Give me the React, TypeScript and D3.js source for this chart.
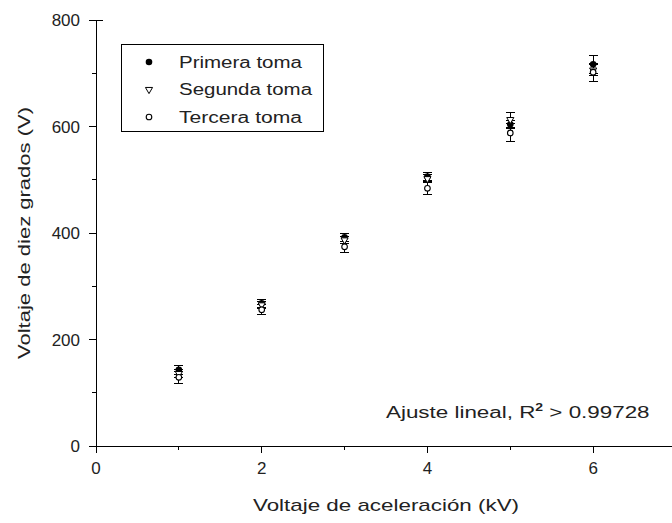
import React from "react";
import * as d3 from "d3";

// Acceleration voltage (kV) for each measurement
const voltajes = [1, 2, 3, 4, 5, 6];

// Three measurement runs with their uncertainties (V)
const primera = [143, 268, 392, 506, 604, 717];
const primeraErr = [9, 8, 8, 8, 8, 17];
const segunda = [136, 265, 387, 502, 613, 706];
const segundaErr = [7, 7, 6, 7, 14, 10];
const tercera = [129, 256, 374, 484, 588, 702];
const terceraErr = [11, 9, 10, 12, 17, 17];

const xTicks = [0, 2, 4, 6];
const xMinor = [1, 3, 5];
const yTicks = [0, 200, 400, 600, 800];
const yMinor = [100, 300, 500, 700];

const W = 672;
const H = 523;
const FONT = "'Liberation Sans', Arial, sans-serif";
const INK = "#222";

const x = d3.scaleLinear().domain([0, 7]).range([96, 676]);
const y = d3.scaleLinear().domain([0, 800]).range([446, 20]);

type Serie = { name: string; values: number[]; errs: number[]; kind: "filled" | "tri" | "open" };
const series: Serie[] = [
  { name: "Primera toma", values: primera, errs: primeraErr, kind: "filled" },
  { name: "Segunda toma", values: segunda, errs: segundaErr, kind: "tri" },
  { name: "Tercera toma", values: tercera, errs: terceraErr, kind: "open" },
];

const triPath = d3.symbol().type(d3.symbolTriangle).size(22)();

function Marker({ kind, cx, cy }: { kind: Serie["kind"]; cx: number; cy: number }) {
  if (kind === "filled") return <circle cx={cx} cy={cy} r={3.3} fill="#000" />;
  if (kind === "open")
    return <circle cx={cx} cy={cy} r={2.8} fill="#fff" stroke="#000" strokeWidth={1.1} />;
  return (
    <path
      d={triPath || ""}
      transform={`translate(${cx},${cy}) rotate(180)`}
      fill="#fff"
      stroke="#000"
      strokeWidth={1}
    />
  );
}

export default function App() {
  const cap = 4.5;
  return (
    <svg
      width={W}
      height={H}
      style={{ position: "absolute", left: 0, top: 0, background: "#fff" }}
      fontFamily={FONT}
    >
      <rect width={W} height={H} fill="#fff" />
      {/* axes */}
      <g stroke="#000" strokeWidth={1} shapeRendering="crispEdges">
        <line x1={x(0)} x2={x(0)} y1={y(800)} y2={y(0)} />
        <line x1={x(0)} x2={W} y1={y(0)} y2={y(0)} />
        {yTicks.map((t) => (
          <line key={"yt" + t} x1={x(0) - 7} x2={t === 800 ? x(0) + 7 : x(0)} y1={y(t)} y2={y(t)} />
        ))}
        {yMinor.map((t) => (
          <line key={"ym" + t} x1={x(0) - 4} x2={x(0)} y1={y(t)} y2={y(t)} />
        ))}
        {xTicks.map((t) => (
          <line key={"xt" + t} x1={x(t)} x2={x(t)} y1={y(0)} y2={y(0) + 7} />
        ))}
        {xMinor.map((t) => (
          <line key={"xm" + t} x1={x(t)} x2={x(t)} y1={y(0)} y2={y(0) + 4} />
        ))}
      </g>
      {/* tick labels */}
      <g fontSize={17} fill={INK}>
        {yTicks.map((t) => (
          <text key={"yl" + t} x={80} y={y(t) + 6} textAnchor="end">
            {t}
          </text>
        ))}
        {xTicks.map((t) => (
          <text key={"xl" + t} x={x(t)} y={y(0) + 28} textAnchor="middle">
            {t}
          </text>
        ))}
      </g>
      {/* axis titles */}
      <text
        x={386}
        y={511}
        fontSize={17}
        textAnchor="middle"
        fill={INK}
        textLength={266}
        lengthAdjust="spacingAndGlyphs"
      >
        Voltaje de aceleración (kV)
      </text>
      <text
        transform={`translate(30,${y(400)}) rotate(-90)`}
        fontSize={17}
        textAnchor="middle"
        fill={INK}
        textLength={252}
        lengthAdjust="spacingAndGlyphs"
      >
        Voltaje de diez grados (V)
      </text>
      {/* error bars and markers */}
      {series.map((s) => (
        <g key={s.name}>
          {voltajes.map((v, i) => {
            const cx = x(v);
            const top = y(s.values[i] + s.errs[i]);
            const bot = y(s.values[i] - s.errs[i]);
            return (
              <g key={i} stroke="#000" strokeWidth={1} shapeRendering="crispEdges">
                <line x1={cx} x2={cx} y1={top} y2={bot} />
                <line x1={cx - cap} x2={cx + cap} y1={top} y2={top} />
                <line x1={cx - cap} x2={cx + cap} y1={bot} y2={bot} />
              </g>
            );
          })}
        </g>
      ))}
      {series.map((s) => (
        <g key={s.name + "m"}>
          {voltajes.map((v, i) => (
            <Marker key={i} kind={s.kind} cx={x(v)} cy={y(s.values[i])} />
          ))}
        </g>
      ))}
      {/* legend */}
      <g>
        <rect x={121.5} y={44.5} width={202} height={87} fill="#fff" stroke="#000" strokeWidth={1} />
        {series.map((s, i) => (
          <g key={s.name + "l"}>
            <Marker kind={s.kind} cx={149} cy={62 + i * 27.5} />
            <text
              x={179}
              y={67.5 + i * 27.5}
              fontSize={16}
              fill={INK}
              textLength={s.name === "Segunda toma" ? 133 : 123}
              lengthAdjust="spacingAndGlyphs"
            >
              {s.name}
            </text>
          </g>
        ))}
      </g>
      {/* fit annotation */}
      <g transform="translate(386,418) scale(1.4,1)">
        <text x={0} y={0} fontSize={16} fill={INK}>
          Ajuste lineal, R<tspan fontSize={10} dy={-7} fontWeight="bold">2</tspan>
          <tspan dy={7}> &gt; 0.99728</tspan>
        </text>
      </g>
    </svg>
  );
}
